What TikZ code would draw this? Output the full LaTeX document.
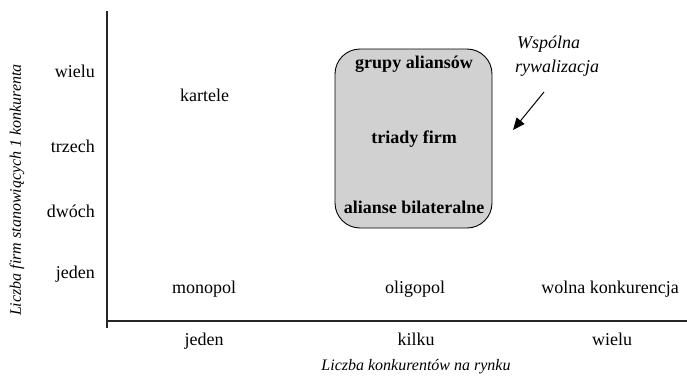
\documentclass[tikz,border=0pt]{standalone}
\usepackage{fontspec}
\setmainfont{Liberation Serif}
\usetikzlibrary{arrows.meta}
\begin{document}
\begin{tikzpicture}[x=1pt,y=-1pt,
  lbl/.style={font=\fontsize{18}{21}\selectfont, inner sep=0pt, anchor=base},
  ylbl/.style={font=\fontsize{18}{21}\selectfont, inner sep=0pt, anchor=base east},
  boxlbl/.style={font=\fontsize{18}{21}\selectfont\bfseries, inner sep=0pt, anchor=base},
  axtitle/.style={font=\fontsize{16}{19}\selectfont\itshape, inner sep=0pt},
  axis/.style={line width=1.5pt, draw=black!85},
  groupbox/.style={draw=black, line width=0.9pt, fill=black!18, rounded corners=25pt}]
\useasboundingbox (0,0) rectangle (687,375);
% axes
\coordinate (ytop) at (107,11);
\coordinate (ybot) at (107,328);
\coordinate (xl) at (106.25,321);
\coordinate (xr) at (687,321);
\draw[axis] (ytop) -- (ybot);
\draw[axis] (xl) -- (xr);
% y-axis labels
\node[ylbl] (yw) at (95,77) {wielu};
\node[ylbl] (yt) at (95,152) {trzech};
\node[ylbl] (yd) at (95,217) {dwóch};
\node[ylbl] (yj) at (95,278) {jeden};
\node[axtitle, rotate=90] (ytitle) at (17,190) {Liczba firm stanowiących 1 konkurenta};
% x-axis labels
\node[lbl] (xj) at (204,345) {jeden};
\node[lbl] (xk) at (416,345) {kilku};
\node[lbl] (xw) at (612,345) {wielu};
\node[axtitle, anchor=base] (xtitle) at (416,370) {Liczba konkurentów na rynku};
% cells
\node[lbl] (kartele) at (204.5,101) {kartele};
\node[lbl] (monopol) at (204,293) {monopol};
\node[lbl] (oligopol) at (415,293) {oligopol};
\node[lbl] (wolna) at (610,293) {wolna konkurencja};
% group box
\draw[groupbox] (335,49) rectangle (492,228);
\node[boxlbl] (grupy) at (414,68) {grupy aliansów};
\node[boxlbl] (triady) at (414,143) {triady firm};
\node[boxlbl] (alianse) at (414,213) {alianse bilateralne};
% annotation
\node[font=\fontsize{18}{24}\selectfont\itshape, inner sep=0pt, align=left, anchor=north west] (wsp) at (515,36) {\hspace*{2pt}Wspólna\\rywalizacja};
\coordinate (arrS) at (544,92);
\coordinate (arrE) at (513,130);
\draw[line width=1pt, -{Triangle[length=12pt,width=10pt]}] (arrS) -- (arrE);
\end{tikzpicture}
\end{document}
